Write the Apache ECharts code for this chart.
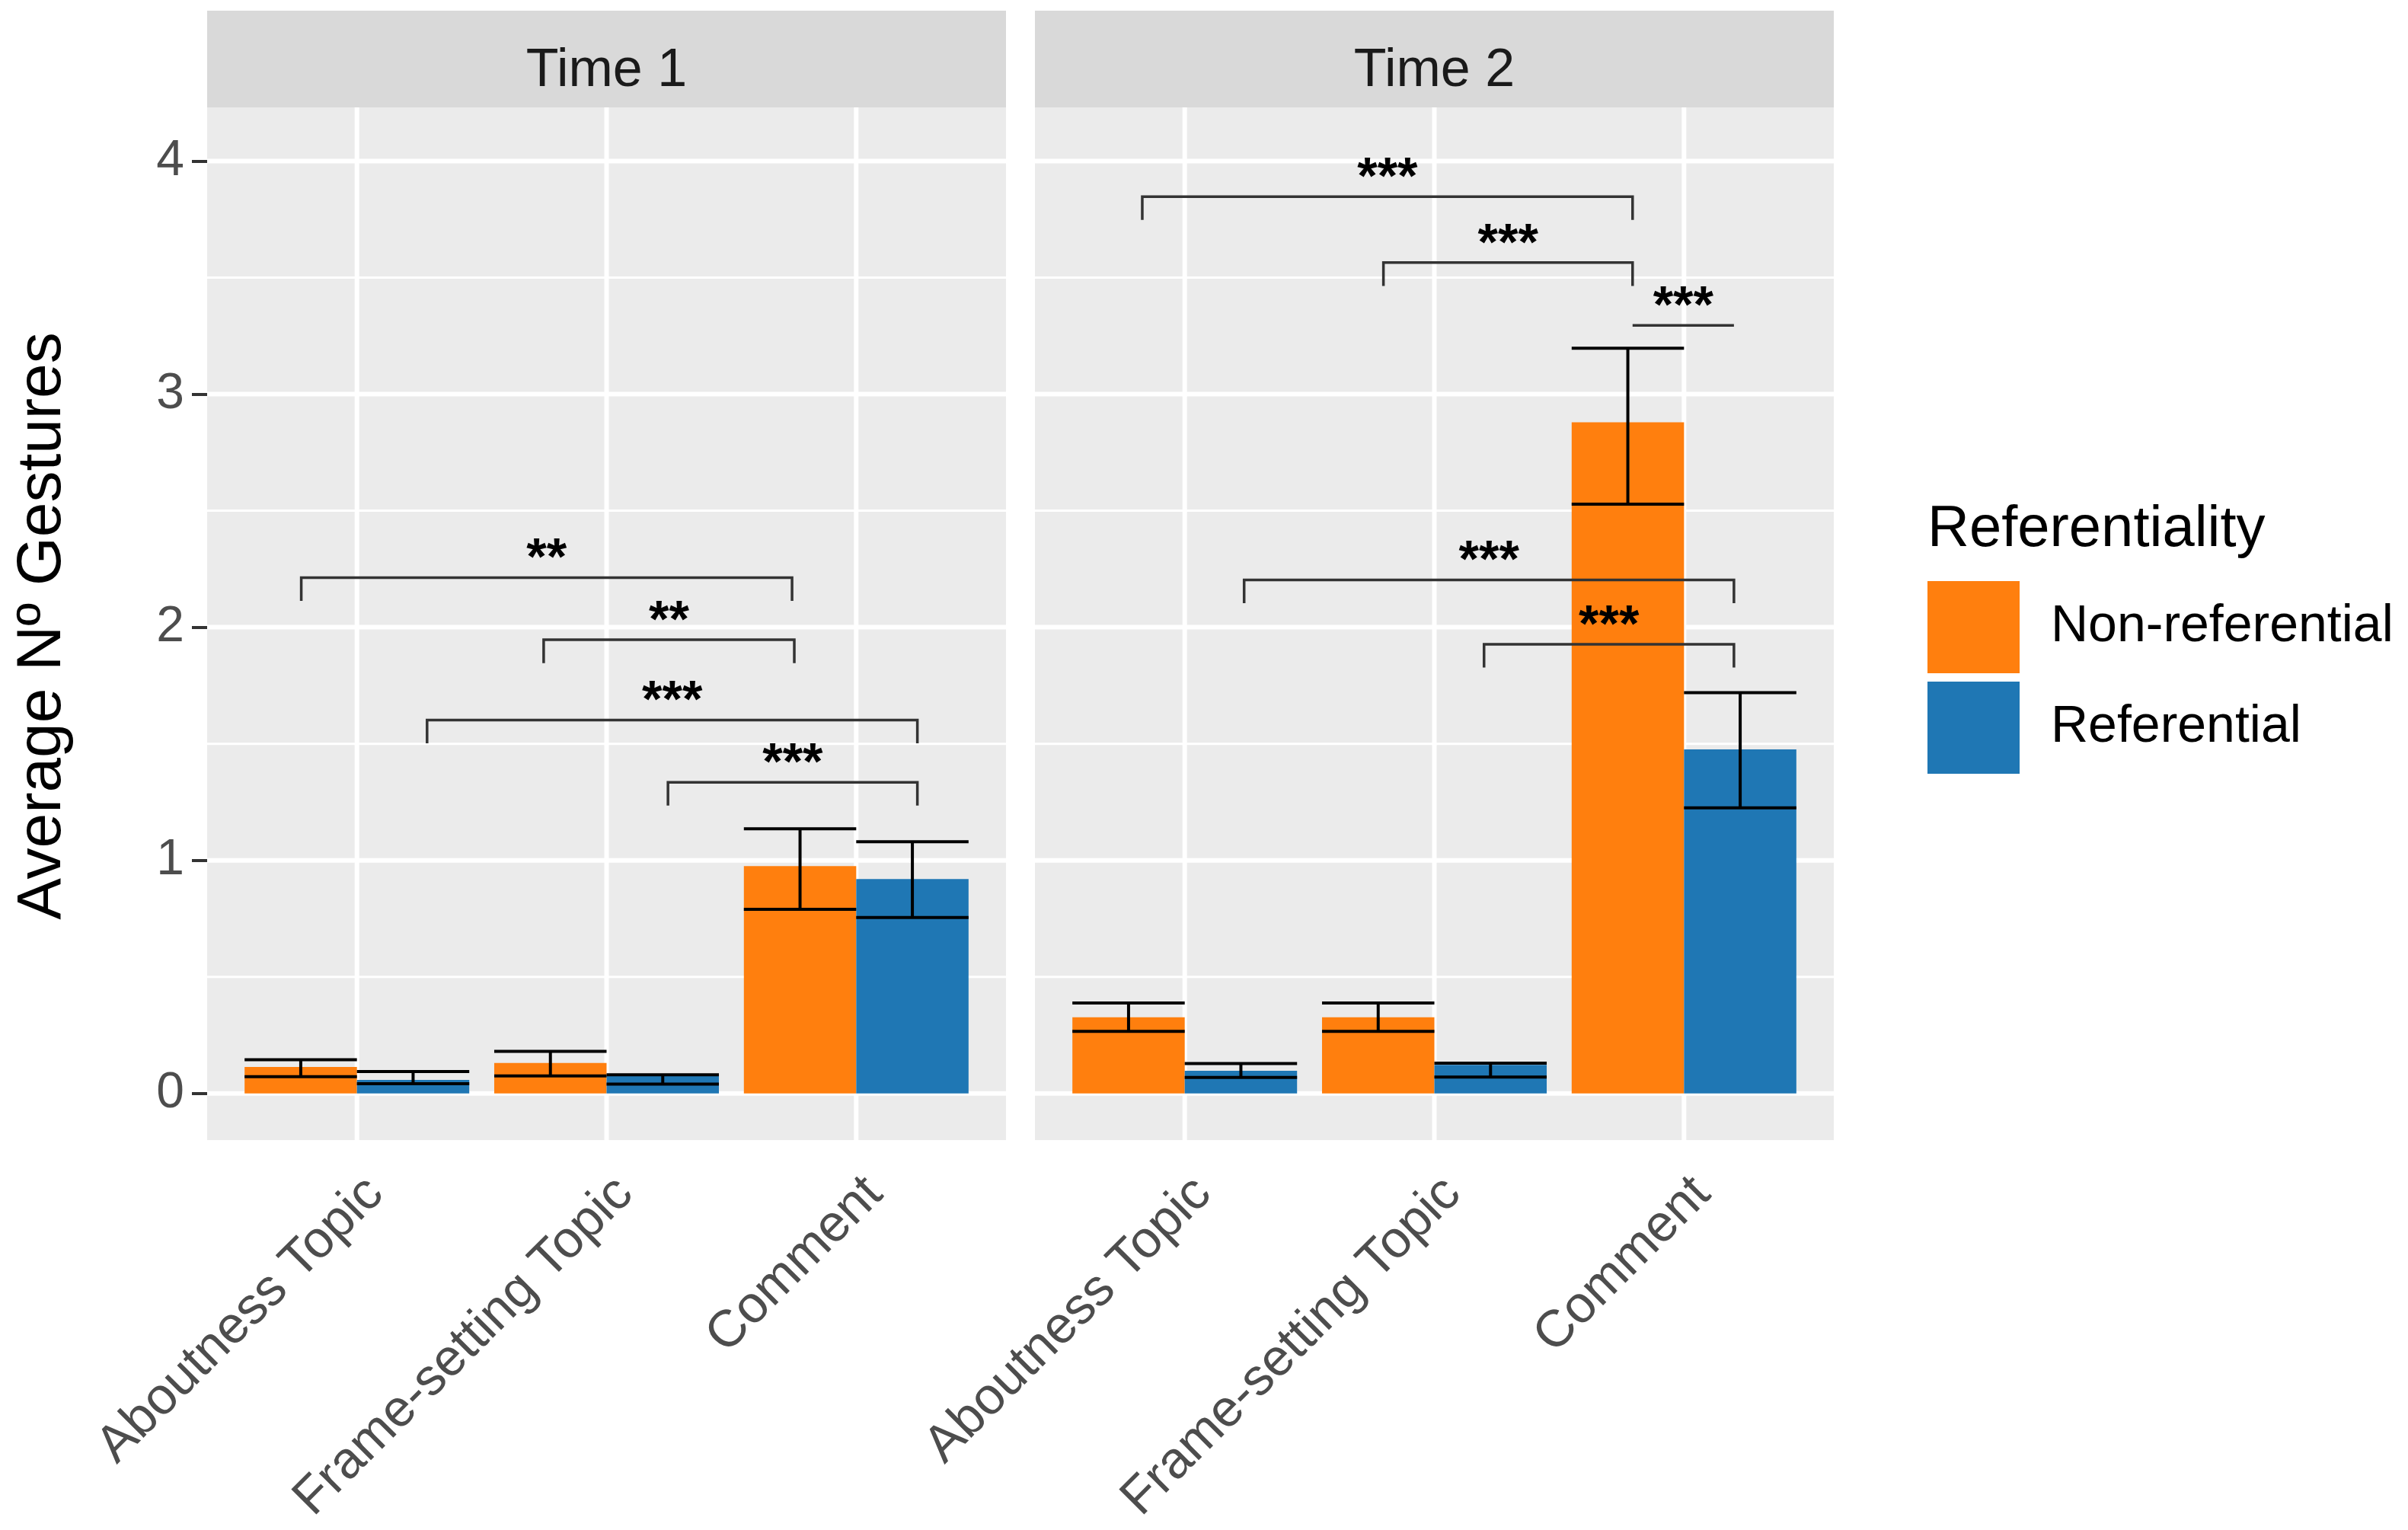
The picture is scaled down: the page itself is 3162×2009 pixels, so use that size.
<!DOCTYPE html>
<html>
<head>
<meta charset="UTF-8">
<title>Gestures by referentiality</title>
<script src="https://cdn.jsdelivr.net/npm/echarts@6/dist/echarts.min.js"></script>
<style>
  html, body { margin: 0; padding: 0; background: #fff; }
  #main { width: 3162px; height: 2009px; }
</style>
</head>
<body>
<div id="main"></div>
<script>
// ---- data ----
var categories = ['Aboutness Topic', 'Frame-setting Topic', 'Comment'];
var panels = ['Time 1', 'Time 2'];
var groups = ['Non-referential', 'Referential'];

// Time 1 means and error bar ends
var t1NonRef     = [0.114, 0.131, 0.975];
var t1NonRefLow  = [0.072, 0.075, 0.790];
var t1NonRefHigh = [0.145, 0.181, 1.135];
var t1Ref        = [0.058, 0.075, 0.920];
var t1RefLow     = [0.042, 0.040, 0.755];
var t1RefHigh    = [0.094, 0.080, 1.080];

// Time 2 means and error bar ends
var t2NonRef     = [0.327, 0.327, 2.879];
var t2NonRefLow  = [0.266, 0.266, 2.528];
var t2NonRefHigh = [0.388, 0.388, 3.197];
var t2Ref        = [0.097, 0.123, 1.476];
var t2RefLow     = [0.069, 0.070, 1.225];
var t2RefHigh    = [0.128, 0.130, 1.719];

// significance brackets (x in category units, y in data units)
var t1BracketStart = [0.777, 1.748, 1.281, 2.246];
var t1BracketEnd   = [2.743, 2.752, 3.245, 3.245];
var t1BracketY     = [2.213, 1.946, 1.602, 1.335];
var t1BracketTip   = [0.1, 0.1, 0.1, 0.1];
var t1BracketLabel = ['**', '**', '***', '***'];

var t2BracketStart = [0.830, 1.796, 2.794, 1.238, 2.199];
var t2BracketEnd   = [2.794, 2.794, 3.200, 3.200, 3.200];
var t2BracketY     = [3.847, 3.564, 3.295, 2.203, 1.927];
var t2BracketTip   = [0.1, 0.1, 0, 0.1, 0.1];
var t2BracketLabel = ['***', '***', '***', '***', '***'];

var yBreaks = [0, 1, 2, 3, 4];
var yMinorBreaks = [0.5, 1.5, 2.5, 3.5];
var xBreaks = [1, 2, 3];

// ---- styling ----
var FONT = 'Liberation Sans, Arial, sans-serif';
var orange = '#FF7F0E';
var blue = '#1F77B4';
var dodge = 0.225, halfBar = 0.225;

var myChart = echarts.init(document.getElementById('main'));

function barData(vals, off) {
  return vals.map(function (v, i) { return [i + 1 + off, v]; });
}
function errData(lo, hi, off) {
  return lo.map(function (l, i) { return [i + 1 + off, l, hi[i]]; });
}
function bracketData(s, e, y, t) {
  return s.map(function (v, i) { return [v, e[i], y[i], t[i]]; });
}

function renderBar(params, api) {
  var x = api.value(0), v = api.value(1);
  var p0 = api.coord([x - halfBar, v]);
  var p1 = api.coord([x + halfBar, 0]);
  return {
    type: 'rect',
    shape: { x: p0[0], y: p0[1], width: p1[0] - p0[0], height: p1[1] - p0[1] },
    style: { fill: api.visual('color') }
  };
}

function renderErr(params, api) {
  var x = api.value(0);
  var lo = api.coord([x, api.value(1)]);
  var hi = api.coord([x, api.value(2)]);
  var l = api.coord([x - halfBar, 0])[0];
  var r = api.coord([x + halfBar, 0])[0];
  var st = { stroke: '#000', lineWidth: 4 };
  return {
    type: 'group',
    children: [
      { type: 'line', shape: { x1: lo[0], y1: lo[1], x2: hi[0], y2: hi[1] }, style: st },
      { type: 'line', shape: { x1: l, y1: lo[1], x2: r, y2: lo[1] }, style: st },
      { type: 'line', shape: { x1: l, y1: hi[1], x2: r, y2: hi[1] }, style: st }
    ]
  };
}

function makeBracketRenderer(labels) {
  return function (params, api) {
    var x0 = api.value(0), x1 = api.value(1), y = api.value(2), tip = api.value(3);
    var a = api.coord([x0, y]);
    var b = api.coord([x1, y]);
    var ta = api.coord([x0, y - tip]);
    var st = { stroke: '#333', lineWidth: 3.5, fill: null };
    return {
      type: 'group',
      children: [
        { type: 'polyline', shape: { points: [[a[0], ta[1]], a, b, [b[0], ta[1]]] }, style: st },
        {
          type: 'text',
          style: {
            x: (a[0] + b[0]) / 2, y: a[1] - 23,
            text: labels[params.dataIndex],
            fill: '#000', font: 'bold 68px ' + FONT,
            align: 'center', verticalAlign: 'middle'
          }
        }
      ]
    };
  };
}

function renderGridLines(params, api) {
  var cs = params.coordSys;
  var ch = [];
  yMinorBreaks.forEach(function (v) {
    var y = api.coord([1, v])[1];
    ch.push({ type: 'line', shape: { x1: cs.x, y1: y, x2: cs.x + cs.width, y2: y }, style: { stroke: '#fff', lineWidth: 3 } });
  });
  yBreaks.forEach(function (v) {
    var y = api.coord([1, v])[1];
    ch.push({ type: 'line', shape: { x1: cs.x, y1: y, x2: cs.x + cs.width, y2: y }, style: { stroke: '#fff', lineWidth: 6 } });
  });
  xBreaks.forEach(function (v) {
    var x = api.coord([v, 0])[0];
    ch.push({ type: 'line', shape: { x1: x, y1: cs.y, x2: x, y2: cs.y + cs.height }, style: { stroke: '#fff', lineWidth: 6 } });
  });
  return { type: 'group', children: ch };
}

var grids = [
  { left: 272, top: 141, width: 1049, height: 1356 },
  { left: 1359, top: 141, width: 1049, height: 1356 }
];

function xAxisFor(i) {
  return {
    type: 'value', gridIndex: i, min: 0.4, max: 3.6,
    axisLine: { show: false }, splitLine: { show: false },
    axisTick: { show: true, customValues: xBreaks, length: 20, lineStyle: { color: '#333', width: 4 } },
    axisLabel: {
      customValues: xBreaks,
      formatter: function (v) { return categories[Math.round(v) - 1]; },
      rotate: 45, align: 'right', verticalAlign: 'top', margin: 36,
      fontSize: 68, color: '#4D4D4D', fontFamily: FONT
    }
  };
}
function yAxisFor(i) {
  return {
    type: 'value', gridIndex: i, min: -0.2, max: 4.23,
    axisLine: { show: false }, splitLine: { show: false },
    axisTick: { show: i === 0, customValues: yBreaks, length: 20, lineStyle: { color: '#333', width: 4 } },
    axisLabel: { show: i === 0, customValues: yBreaks, margin: 30, fontSize: 66, color: '#4D4D4D', fontFamily: FONT }
  };
}

var panelSeries = [
  { nr: t1NonRef, nrLo: t1NonRefLow, nrHi: t1NonRefHigh, r: t1Ref, rLo: t1RefLow, rHi: t1RefHigh,
    br: bracketData(t1BracketStart, t1BracketEnd, t1BracketY, t1BracketTip), lab: t1BracketLabel },
  { nr: t2NonRef, nrLo: t2NonRefLow, nrHi: t2NonRefHigh, r: t2Ref, rLo: t2RefLow, rHi: t2RefHigh,
    br: bracketData(t2BracketStart, t2BracketEnd, t2BracketY, t2BracketTip), lab: t2BracketLabel }
];

var series = [];
panelSeries.forEach(function (p, i) {
  series.push({ type: 'custom', name: 'grid' + i, xAxisIndex: i, yAxisIndex: i, z: 1, silent: true,
    renderItem: renderGridLines, data: [[1, 0]] });
  series.push({ type: 'custom', name: groups[0], xAxisIndex: i, yAxisIndex: i, z: 2,
    itemStyle: { color: orange }, renderItem: renderBar, data: barData(p.nr, -dodge) });
  series.push({ type: 'custom', name: groups[1], xAxisIndex: i, yAxisIndex: i, z: 2,
    itemStyle: { color: blue }, renderItem: renderBar, data: barData(p.r, dodge) });
  series.push({ type: 'custom', name: 'err' + i, xAxisIndex: i, yAxisIndex: i, z: 3, silent: true,
    renderItem: renderErr, data: errData(p.nrLo, p.nrHi, -dodge).concat(errData(p.rLo, p.rHi, dodge)) });
  series.push({ type: 'custom', name: 'sig' + i, xAxisIndex: i, yAxisIndex: i, z: 4, silent: true,
    renderItem: makeBracketRenderer(p.lab), data: p.br });
});

var graphics = [];
grids.forEach(function (g, i) {
  graphics.push({ type: 'rect', left: g.left, top: 14, shape: { width: g.width, height: 127 }, style: { fill: '#D9D9D9' }, silent: true });
  graphics.push({ type: 'text', x: g.left + g.width / 2, y: 94,
    style: { text: panels[i], font: '70px ' + FONT, fill: '#1A1A1A', align: 'center', verticalAlign: 'middle' } });
});
graphics.push({ type: 'text', x: 56, y: 822, rotation: Math.PI / 2,
  style: { text: 'Average Nº Gestures', font: '82px ' + FONT, fill: '#000', align: 'center', verticalAlign: 'middle' } });
graphics.push({ type: 'text', x: 2531, y: 696,
  style: { text: 'Referentiality', font: '76px ' + FONT, fill: '#000', align: 'left', verticalAlign: 'middle' } });

var option = {
  backgroundColor: '#fff',
  animation: false,
  grid: grids.map(function (g) {
    return { left: g.left, top: g.top, width: g.width, height: g.height, show: true,
      backgroundColor: '#EBEBEB', borderWidth: 0, containLabel: false };
  }),
  xAxis: [xAxisFor(0), xAxisFor(1)],
  yAxis: [yAxisFor(0), yAxisFor(1)],
  legend: {
    data: groups, orient: 'vertical', left: 2531, top: 763, padding: 0,
    icon: 'rect', itemWidth: 121, itemHeight: 121, itemGap: 11,
    textStyle: { fontSize: 68, color: '#000', fontFamily: FONT, padding: [0, 0, 0, 36] },
    selectedMode: false
  },
  graphic: graphics,
  series: series
};

myChart.setOption(option);
</script>
</body>
</html>
